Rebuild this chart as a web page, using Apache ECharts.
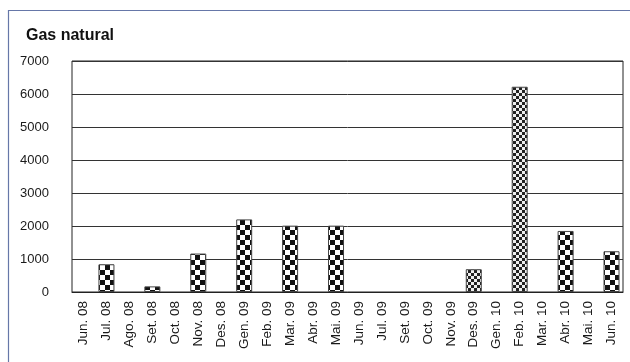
<!DOCTYPE html>
<html><head><meta charset="utf-8">
<script src="https://cdn.jsdelivr.net/npm/echarts@6/dist/echarts.min.js"></script>
<style>html,body{margin:0;padding:0;background:#fff}#c{width:630px;height:362px}</style>
</head><body><div id="c"></div>
<script>
var categories = ['Jun. 08','Jul. 08','Ago. 08','Set. 08','Oct. 08','Nov. 08','Des. 08','Gen. 09','Feb. 09','Mar. 09','Abr. 09','Mai. 09','Jun. 09','Jul. 09','Set. 09','Oct. 09','Nov. 09','Des. 09','Gen. 10','Feb. 10','Mar. 10','Abr. 10','Mai. 10','Jun. 10'];
var values = [0, 840, 0, 170, 0, 1165, 0, 2200, 0, 2010, 0, 2010, 0, 0, 0, 0, 0, 690, 0, 6220, 0, 1850, 0, 1235];
var fineIdx = ['Des. 09', 'Feb. 10'];

function checker(size, dark, light) {
  var c = document.createElement('canvas');
  c.width = size * 2; c.height = size * 2;
  var g = c.getContext('2d');
  g.fillStyle = light; g.fillRect(0, 0, size * 2, size * 2);
  g.fillStyle = dark;
  g.fillRect(0, 0, size, size);
  g.fillRect(size, size, size, size);
  return c;
}
var coarse = checker(5, '#111', '#fff');
var fine = checker(3, '#222', '#eee');

var data = values.map(function (v, i) {
  var f = fineIdx.indexOf(categories[i]) >= 0;
  return {
    value: v,
    itemStyle: {
      color: { image: f ? fine : coarse, repeat: 'repeat' },
      borderColor: '#444', borderWidth: v === 0 ? 0 : 1
    }
  };
});

var chart = echarts.init(document.getElementById('c'));
chart.setOption({
  animation: false,
  backgroundColor: '#fff',
  title: {
    text: 'Gas natural', left: 21, top: 23,
    textStyle: { fontFamily: 'Liberation Sans', fontWeight: 'bold', fontSize: 16, color: '#111' }
  },
  graphic: [{
    type: 'rect', left: 6, top: 8, shape: { width: 700, height: 500 },
    style: { fill: 'none', stroke: '#6677a8', lineWidth: 1.2 }, z: -1
  }],
  grid: { left: 72, right: 7, top: 61, bottom: 70, show: true, borderColor: '#222', borderWidth: 1 },
  xAxis: {
    type: 'category', data: categories,
    axisLine: { lineStyle: { color: '#222' } },
    axisTick: { show: false },
    axisLabel: { rotate: 90, interval: 0, fontFamily: 'Liberation Sans', fontSize: 13.5, color: '#1a1a1a', margin: 9 }
  },
  yAxis: {
    type: 'value', min: 0, max: 7000, interval: 1000,
    axisLine: { show: false }, axisTick: { show: false },
    splitLine: { lineStyle: { color: '#333', width: 1 } },
    axisLabel: { fontFamily: 'Liberation Sans', fontSize: 13, color: '#1a1a1a', margin: 23, formatter: function (v) { return String(v); } }
  },
  series: [{ type: 'bar', data: data, barWidth: 16 }]
});
</script></body></html>
